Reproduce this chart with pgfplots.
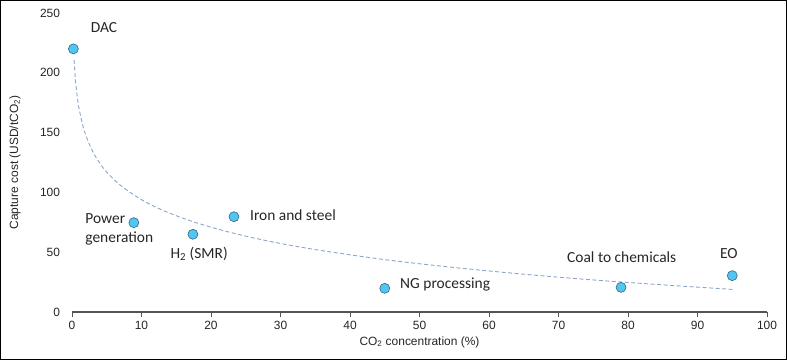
\documentclass[border=0pt]{standalone}
\usepackage{fontspec}
\setmainfont{Carlito}
\newfontfamily\arialf{Liberation Sans}
\usepackage{pgfplots}
\pgfplotsset{compat=1.18}
\definecolor{mkfill}{RGB}{84,197,240}
\definecolor{mkdraw}{RGB}{45,105,135}
\definecolor{trend}{RGB}{140,165,200}
\definecolor{axgray}{RGB}{85,85,85}
\begin{document}
\begin{tikzpicture}
\useasboundingbox (-72bp,-48bp) rectangle (715bp,312bp);
\draw[black, line width=1.2bp] (-71.4bp,-47.4bp) rectangle (714.4bp,311.4bp);
\begin{axis}[
  at={(0,0)}, anchor=origin,
  scale only axis, width=695bp, height=299bp,
  xmin=0, xmax=100, ymin=0, ymax=250,
  xtick={0,10,...,100}, ytick={0,50,...,250},
  axis x line=bottom, axis y line=left,
  x axis line style={-, draw=axgray, line width=1.4bp},
  y axis line style={draw=none},
  ytick style={draw=none},
  xtick style={draw=axgray, line width=0.8bp},
  tick align=outside, major tick length=4.5bp,
  /pgf/number format/assume math mode=true,
  yticklabel style={font=\arialf\fontsize{12}{14}\selectfont, text=black!85, xshift=-4bp},
  xticklabel style={font=\arialf\fontsize{12}{14}\selectfont, text=black!85, yshift=-1bp},
  xlabel={CO\textsubscript{2} concentration (\%)},
  ylabel={Capture cost (USD/tCO\textsubscript{2})},
  xlabel style={font=\arialf\fontsize{12}{14}\selectfont, text=black!85, at={(rel axis cs:0.5,0)}, yshift=-30bp, anchor=center},
  ylabel style={font=\arialf\fontsize{12}{14}\selectfont, text=black!85, at={(rel axis cs:0,0.5)}, yshift=57bp, anchor=center},
  clip=false,
]
\addplot[trend, line width=0.9bp, dash pattern=on 4bp off 2.5bp, smooth] coordinates {
(0.3,210.7) (0.5,193.7) (0.75,180.2) (1,170.6) (1.5,157.1) (2,147.5) (3,134.0) (4,124.4)
(5,117.0) (7,105.8) (10,93.9) (13,85.2) (17,76.3) (22,67.7) (28,59.6) (35,52.2)
(45,43.8) (55,37.2) (65,31.6) (75,26.8) (85,22.7) (95,18.9)};
\addplot[only marks, mark=*, mark size=5bp, mark options={fill=mkfill, draw=mkdraw, line width=0.6bp}] coordinates {
(0.2,220) (8.9,74.7) (17.4,65) (23.3,79.7) (45,19.8) (79,20.6) (95,30.4)};
\begin{scope}[every node/.style={font=\fontsize{15.5}{19}\selectfont, text=black!85, inner sep=0pt}]
\node[anchor=center] at (axis cs:4.6,237.5) {DAC};
\node[anchor=west, align=left] at (axis cs:1.9,69) {Power\\generation};
\node[anchor=center] at (axis cs:18.3,48.5) {H\textsubscript{2} (SMR)};
\node[anchor=west] at (axis cs:25.6,81) {Iron and steel};
\node[anchor=west] at (axis cs:47.2,22.6) {NG processing};
\node[anchor=center] at (axis cs:79.1,45.5) {Coal to chemicals};
\node[anchor=center] at (axis cs:94.5,49) {EO};
\end{scope}
\end{axis}
\end{tikzpicture}
\end{document}
